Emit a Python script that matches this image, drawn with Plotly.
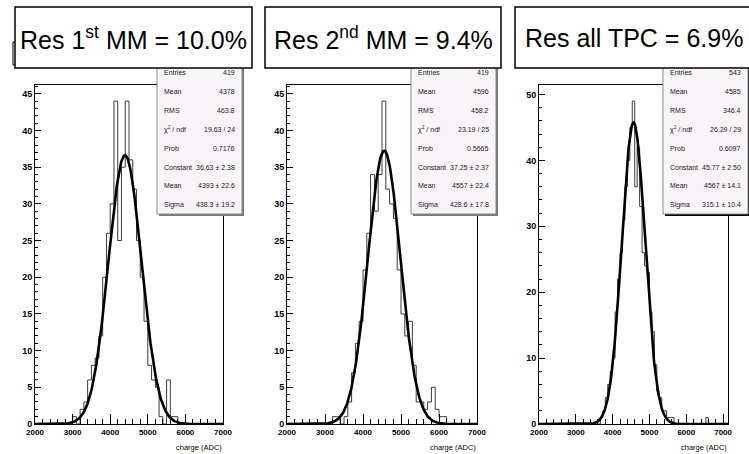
import math
import plotly.graph_objects as go

W, H = 749, 454

# ---------------- data ----------------
titles = ["Res 1<sup>st</sup> MM = 10.0%", "Res 2<sup>nd</sup> MM = 9.4%", "Res all TPC = 6.9%"]

x_min = [2000, 2000, 2000]
x_max = [7000, 7000, 7133.33]
y_max = [46.2, 46.2, 51.45]
y_dtick = [5, 5, 10]
y_minor = [1, 1, 2]

# histogram binning (start, width) and bin contents
bin_start = [2000, 2000, 2000]
bin_width = [100, 100, 200 / 3]

p1_counts = [0] * 10 + [1, 0, 2, 3, 6, 8, 9, 12, 20, 26,
                        30, 44, 25, 35, 44, 36, 32, 25, 20, 14,
                        8, 6, 5, 1, 0, 6, 1, 1] + [0] * 12
p2_counts = [0] * 12 + [1, 1, 0, 1, 3, 7, 11, 14,
                        21, 26, 34, 29, 34, 44, 32, 30, 28, 21,
                        15, 12, 14, 8, 3, 3, 2, 3, 5, 2,
                        1, 1] + [0] * 8
p3_counts = [0] * 25 + [1, 2, 4, 6, 8, 10, 17, 22, 26, 31,
                        36, 40, 45, 49, 36, 42, 33, 26, 24, 23,
                        17, 14, 9, 5, 4, 2, 2, 1, 1, 1] + [0] * 13 + [1] + [0] * 8

fit_const = [36.63, 37.25, 45.77]
fit_mean = [4393, 4557, 4567]
fit_sigma = [438.3, 428.6, 315.1]

stat_labels = ["Entries", "Mean", "RMS", "\u03c7<sup>2</sup> / ndf", "Prob",
               "Constant", "Mean", "Sigma"]
p1_stats = ["419", "4378", "463.8", "19.63 / 24", "0.7176",
            "36.63 \u00b1 2.38", "4393 \u00b1 22.6", "438.3 \u00b1 19.2"]
p2_stats = ["419", "4596", "458.2", "23.19 / 25", "0.5665",
            "37.25 \u00b1 2.37", "4557 \u00b1 22.4", "428.6 \u00b1 17.8"]
p3_stats = ["543", "4585", "346.4", "26.29 / 29", "0.6097",
            "45.77 \u00b1 2.50", "4567 \u00b1 14.1", "315.1 \u00b1 10.4"]
all_stats = [p1_stats, p2_stats, p3_stats]
all_counts = [p1_counts, p2_counts, p3_counts]

# ---------------- layout geometry (pixels) ----------------
frame_x = [(35, 223), (287, 477), (539, 728)]
frame_y = (85, 424)
stat_x = [(157, 242), (411, 496), (663, 748)]
stat_y = (60, 214)
title_x = [(15, 252), (265, 501), (515, 752)]
title_y = (7, 68)


def px(x):
    return x / W


def py(y):
    return 1 - y / H


fig = go.Figure()
FONT = "Liberation Sans, Arial, Helvetica, sans-serif"

for i in range(3):
    xa = "x" if i == 0 else f"x{i+1}"
    ya = "y" if i == 0 else f"y{i+1}"
    counts = all_counts[i]
    edges = [bin_start[i] + k * bin_width[i] for k in range(len(counts) + 1)]
    hx = list(edges)
    hy = list(counts) + [counts[-1]]
    fig.add_trace(go.Scatter(x=hx, y=hy, mode="lines", line_shape="hv",
                             line=dict(color="#3a3a3a", width=1),
                             xaxis=xa, yaxis=ya, showlegend=False, hoverinfo="skip"))
    n = 400
    fx = [x_min[i] + (x_max[i] - x_min[i]) * k / n for k in range(n + 1)]
    fy = [fit_const[i] * math.exp(-0.5 * ((v - fit_mean[i]) / fit_sigma[i]) ** 2) for v in fx]
    fig.add_trace(go.Scatter(x=fx, y=fy, mode="lines",
                             line=dict(color="black", width=2.6),
                             xaxis=xa, yaxis=ya, showlegend=False, hoverinfo="skip"))

layout = dict(width=W, height=H, autosize=False,
              margin=dict(l=0, r=0, t=0, b=0, pad=0, autoexpand=False),
              paper_bgcolor="white", plot_bgcolor="white", showlegend=False,
              font=dict(family=FONT, color="black"))

for i in range(3):
    xk = "xaxis" if i == 0 else f"xaxis{i+1}"
    yk = "yaxis" if i == 0 else f"yaxis{i+1}"
    ya = "y" if i == 0 else f"y{i+1}"
    xa = "x" if i == 0 else f"x{i+1}"
    layout[xk] = dict(domain=[px(frame_x[i][0]), px(frame_x[i][1])], anchor=ya,
                      range=[x_min[i], x_max[i]], showgrid=False, zeroline=False,
                      automargin=False,
                      showline=True, linecolor="black", linewidth=1.2, mirror=True,
                      ticks="inside", ticklen=10, tickwidth=1, tickcolor="black",
                      tick0=2000, dtick=1000,
                      minor=dict(ticks="inside", ticklen=5, dtick=200, tickcolor="black", tickwidth=1),
                      tickfont=dict(size=8, family=FONT, color="black", weight="bold"))
    layout[yk] = dict(domain=[py(frame_y[1]), py(frame_y[0])], anchor=xa,
                      range=[0, y_max[i]], showgrid=False, zeroline=False,
                      automargin=False,
                      showline=True, linecolor="black", linewidth=1, mirror=True,
                      ticks="inside", ticklen=6, tickwidth=1, tickcolor="black",
                      tick0=0, dtick=y_dtick[i],
                      minor=dict(ticks="inside", ticklen=3, dtick=y_minor[i], tickcolor="black", tickwidth=1),
                      tickfont=dict(size=9, family=FONT, color="black", weight="bold"))

shapes = []
annotations = []

# partially hidden box at far left
shapes.append(dict(type="rect", xref="paper", yref="paper",
                   x0=px(13), x1=px(40), y0=py(65), y1=py(42),
                   line=dict(color="black", width=1), fillcolor="white"))

for i in range(3):
    # stats box shadow + box
    sx0, sx1 = stat_x[i]
    sy0, sy1 = stat_y
    shadow = "black" if i == 2 else "#777777"
    shapes.append(dict(type="rect", xref="paper", yref="paper",
                       x0=px(sx0 + 2), x1=px(sx1 + 2), y0=py(sy1 + 2), y1=py(sy0 + 2),
                       line=dict(width=0), fillcolor=shadow))
    shapes.append(dict(type="rect", xref="paper", yref="paper",
                       x0=px(sx0), x1=px(sx1), y0=py(sy1), y1=py(sy0),
                       line=dict(color="#8a8a8a", width=1), fillcolor="#f8f4f8"))
    for r, lab in enumerate(stat_labels):
        yy = 72.5 + r * 18.9
        annotations.append(dict(xref="paper", yref="paper", x=px(sx0 + 5), y=py(yy),
                                text=lab, showarrow=False, xanchor="left", yanchor="middle",
                                font=dict(size=7, family=FONT, color="#222222")))
        annotations.append(dict(xref="paper", yref="paper", x=px(sx1 - 5), y=py(yy),
                                text=all_stats[i][r], showarrow=False, xanchor="right", yanchor="middle",
                                font=dict(size=7, family=FONT, color="#222222")))

for i in range(3):
    tx0, tx1 = title_x[i]
    ty0, ty1 = title_y
    shapes.append(dict(type="rect", xref="paper", yref="paper",
                       x0=px(tx0), x1=px(tx1), y0=py(ty1), y1=py(ty0),
                       line=dict(color="black", width=1.5), fillcolor="white"))
    annotations.append(dict(xref="paper", yref="paper", x=px((tx0 + tx1) / 2), y=py(38),
                            text=titles[i], showarrow=False, xanchor="center", yanchor="middle",
                            font=dict(size=25, family=FONT, color="black")))
    # x-axis title
    annotations.append(dict(xref="paper", yref="paper", x=px(frame_x[i][1] + 1), y=py(447),
                            text="charge (ADC)", showarrow=False, xanchor="right", yanchor="middle",
                            font=dict(size=7.5, family=FONT, color="black")))

layout["shapes"] = shapes
layout["annotations"] = annotations
fig.update_layout(**layout)
fig.write_html("out.html",
               config={"displayModeBar": False, "staticPlot": True},
               post_script="document.documentElement.style.margin='0';"
                           "document.body.style.margin='0';document.body.style.padding='0';"
                           "document.body.style.overflow='hidden';")
